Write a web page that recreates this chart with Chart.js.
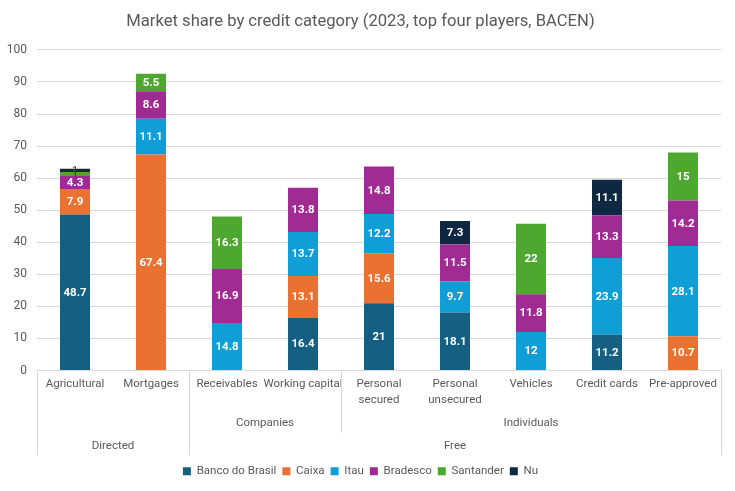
<!DOCTYPE html>
<html>
<head>
<meta charset="utf-8">
<script src="https://cdn.jsdelivr.net/npm/chart.js@4.4.1/dist/chart.umd.min.js"></script>
<style>
  html, body { margin: 0; padding: 0; background: #fff; }
</style>
</head>
<body>
<canvas id="chart" width="735" height="491"></canvas>
<script>
// categories (inner level), with line breaks
const categories = [
  ["Agricultural"], ["Mortgages"], ["Receivables"], ["Working capital"],
  ["Personal", "secured"], ["Personal", "unsecured"], ["Vehicles"],
  ["Credit cards"], ["Pre-approved"]
]
// middle level: label, first and last category index
const segmentLabels = ["Companies", "Individuals"]
const segmentRanges = [[2, 3], [4, 8]]
// outer level
const typeLabels = ["Directed", "Free"]
const typeRanges = [[0, 1], [2, 8]]

const yTicks = [0, 10, 20, 30, 40, 50, 60, 70, 80, 90, 100]

const bancoDoBrasil = [48.7, null, null, 16.4, 21, 18.1, null, 11.2, null]
const caixa         = [7.9, 67.4, null, 13.1, 15.6, null, null, null, 10.7]
const itau          = [null, 11.1, 14.8, 13.7, 12.2, 9.7, 12, 23.9, 28.1]
const bradesco      = [4.3, 8.6, 16.9, 13.8, 14.8, 11.5, 11.8, 13.3, 14.2]
const santander     = [1, 5.5, 16.3, null, null, null, 22, null, 15]
const nu            = [1, null, null, null, null, 7.3, null, 11.1, null]

const FONT = "Roboto, 'Noto Sans', sans-serif"
const TEXT = "#595959"
const LINE = "#d9d9d9"

// white value labels in the middle of each segment
const valueLabels = {
  id: "valueLabels",
  afterDatasetsDraw(chart) {
    const ctx = chart.ctx
    ctx.save()
    ctx.textAlign = "center"
    ctx.textBaseline = "middle"
    chart.data.datasets.forEach((ds, i) => {
      const meta = chart.getDatasetMeta(i)
      meta.data.forEach((bar, j) => {
        const v = ds.data[j]
        if (v == null) return
        const y = (bar.y + bar.base) / 2
        if (v < 2) {
          ctx.font = "11px " + FONT
          ctx.fillStyle = "#404040"
        } else {
          ctx.font = "bold 11.5px " + FONT
          ctx.fillStyle = "#ffffff"
        }
        ctx.fillText(String(v), bar.x, y + 0.5)
      })
    })
    ctx.restore()
  }
}

// three level category axis below the plot
const multiLevelAxis = {
  id: "multiLevelAxis",
  afterDraw(chart) {
    const ctx = chart.ctx
    const x = chart.scales.x
    const top = chart.chartArea.bottom
    const step = x.getPixelForValue(1) - x.getPixelForValue(0)
    const edge = i => x.getPixelForValue(i) - step / 2
    const mid = (a, b) => (edge(a) + edge(b + 1)) / 2

    ctx.save()
    ctx.font = "11.5px " + FONT
    ctx.fillStyle = TEXT
    ctx.textAlign = "center"
    ctx.textBaseline = "middle"
    categories.forEach((lines, i) => {
      lines.forEach((t, k) => ctx.fillText(t, x.getPixelForValue(i), top + 14 + k * 16))
    })
    segmentLabels.forEach((t, k) => {
      const r = segmentRanges[k]
      ctx.fillText(t, mid(r[0], r[1]), top + 53)
    })
    typeLabels.forEach((t, k) => {
      const r = typeRanges[k]
      ctx.fillText(t, mid(r[0], r[1]), top + 76)
    })

    ctx.strokeStyle = LINE
    ctx.lineWidth = 1
    const vline = (px, len) => {
      const xx = Math.round(px) + 0.5
      ctx.beginPath()
      ctx.moveTo(xx, top)
      ctx.lineTo(xx, top + len)
      ctx.stroke()
    }
    vline(edge(0), 85)
    vline(edge(categories.length), 85)
    typeRanges.slice(1).forEach(r => vline(edge(r[0]), 85))
    segmentRanges.forEach(r => {
      if (!typeRanges.some(t => t[0] === r[0])) vline(edge(r[0]), 62)
    })
    ctx.restore()
  }
}

const series = [
  { label: "Banco do Brasil", data: bancoDoBrasil, color: "#156082" },
  { label: "Caixa", data: caixa, color: "#e97132" },
  { label: "Itau", data: itau, color: "#0f9ed5" },
  { label: "Bradesco", data: bradesco, color: "#a02b93" },
  { label: "Santander", data: santander, color: "#4ea72e" },
  { label: "Nu", data: nu, color: "#0e2841" }
]

new Chart(document.getElementById("chart"), {
  type: "bar",
  data: {
    labels: categories.map(c => c.join(" ")),
    datasets: series.map(s => ({
      label: s.label,
      data: s.data,
      backgroundColor: s.color,
      borderWidth: 0,
      categoryPercentage: 1,
      barPercentage: 0.395
    }))
  },
  options: {
    responsive: false,
    animation: false,
    layout: { padding: { left: 0, right: 14, top: 0, bottom: 4 } },
    scales: {
      x: {
        stacked: true,
        grid: { display: false },
        border: { color: LINE },
        ticks: { display: false },
        afterFit(scale) { scale.height = 89 }
      },
      y: {
        stacked: true,
        min: 0,
        max: 100,
        afterBuildTicks(scale) { scale.ticks = yTicks.map(v => ({ value: v })) },
        ticks: { color: TEXT, font: { family: FONT, size: 12 }, padding: 10 },
        grid: { color: LINE, drawTicks: false },
        border: { display: false },
        afterFit(scale) { scale.width = 37 }
      }
    },
    plugins: {
      title: {
        display: true,
        text: "Market share by credit category (2023, top four players, BACEN)",
        color: TEXT,
        font: { family: FONT, size: 16.6, weight: "normal" },
        padding: { top: 12, bottom: 18 }
      },
      legend: {
        position: "bottom",
        labels: {
          boxWidth: 8,
          boxHeight: 8,
          padding: 6,
          color: TEXT,
          font: { family: FONT, size: 11.5 }
        }
      },
      tooltip: { enabled: false }
    }
  },
  plugins: [valueLabels, multiLevelAxis]
})
</script>
</body>
</html>
